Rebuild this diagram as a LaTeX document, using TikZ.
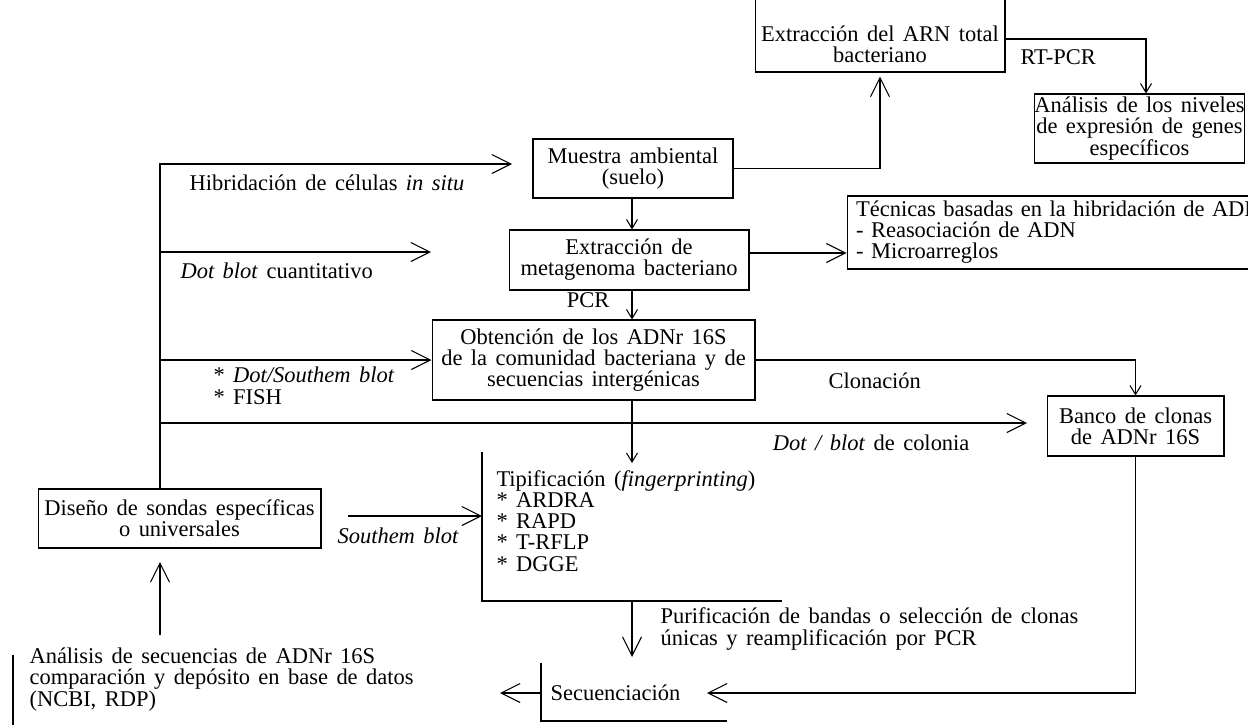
\documentclass[tikz,border=0pt]{standalone}
\usepackage{fontspec}
\setmainfont{Liberation Serif}[WordSpace=1.5]
\usetikzlibrary{arrows.meta}
\usetikzlibrary{positioning}

\begin{document}
\begin{tikzpicture}[x=0.02cm,y=-0.02cm,line width=0.6pt,
              every node/.style={font=\fontsize{12.8}{12}\selectfont, inner sep=0pt},
              box/.style={draw, align=center},
              lbl/.style={align=left},
              bigarrow/.style={-{Straight Barb[length=3.8mm,width=3.8mm]}},
              smallarrow/.style={-{Straight Barb[length=1.8mm,width=2.2mm]}}]
  \useasboundingbox (0,0) rectangle (1248,724);
  \clip (0,0) rectangle (1248,724);

  \node[box, minimum width=5cm, minimum height=1.84cm] (arn) at (880,26) {};
  \node[align=center] (arntext) at (880,44) {Extracción del ARN total\\bacteriano};
  \node[box, minimum width=4.18cm, minimum height=1.38cm] (niveles) at (1139.5,128.5)
    {Análisis de los niveles\\de expresión de genes\\específicos};
  \node[box, minimum width=4cm, minimum height=1.18cm] (muestra) at (633,168.5)
    {Muestra ambiental\\(suelo)};
  \node[box, minimum width=4.8cm, minimum height=1.2cm] (meta) at (629,260)
    {Extracción de\\metagenoma bacteriano};
  \node[draw, align=left, text width=9.1cm, inner xsep=0.18cm, minimum height=1.46cm] (tecnicas) at (1083.5,232.5)
    {Técnicas basadas en la hibridación de ADN\\- Reasociación de ADN\\- Microarreglos};
  \node[box, minimum width=6.46cm, minimum height=1.6cm] (obt) at (593.5,360)
    {Obtención de los ADNr 16S\\de la comunidad bacteriana y de\\secuencias intergénicas};
  \node[box, minimum width=3.54cm, minimum height=1.2cm] (banco) at (1135.5,426)
    {Banco de clonas\\de ADNr 16S};
  \node[box, minimum width=5.66cm, minimum height=1.18cm] (diseno) at (179.5,518.5)
    {Diseño de sondas específicas\\o universales};
  \node[lbl, anchor=base west] (tipif) at (496,571)
    {Tipificación (\textit{fingerprinting})\\* ARDRA\\* RAPD\\* T-RFLP\\* DGGE};
  \node[anchor=base west] (secuen) at (550,700) {Secuenciación};
  \node[lbl, anchor=base west] (analisis) at (29,706)
    {Análisis de secuencias de ADNr 16S\\comparación y depósito en base de datos\\(NCBI, RDP)};

  \node[anchor=base west] (hib) at (189,190) {Hibridación de células \textit{in situ}};
  \node[anchor=base west] (dotq) at (180,278) {\textit{Dot blot} cuantitativo};
  \node[lbl, anchor=base west] (dotsouth) at (213,404) {* \textit{Dot/Southem blot}\\* FISH};
  \node[anchor=base east] (colonia) at (970,450) {\textit{Dot / blot} de colonia};
  \node[anchor=base] (pcr) at (588,307) {PCR};
  \node[anchor=base west] (southern) at (337,543) {\textit{Southem blot}};
  \node[anchor=base west] (clonacion) at (828,388) {Clonación};
  \node[anchor=base west] (rtpcr) at (1020,64) {RT-PCR};
  \node[lbl, anchor=base west] (purif) at (660,645)
    {Purificación de bandas o selección de clonas\\únicas y reamplificación por PCR};

  \coordinate (trunk) at (160,164);
  \coordinate (spine) at (632,0);
  \coordinate (hibtip) at (512,164);
  \coordinate (dotqstart) at (160,252);
  \coordinate (dotqtip) at (431,252);
  \coordinate (colstart) at (160,423);
  \coordinate (coltip) at (1027,423);
  \coordinate (rtcorner) at (1146,39);
  \coordinate (techrow) at (0,253);
  \coordinate (tipiftop) at (482,452);
  \coordinate (tipifcorner) at (482,601);
  \coordinate (tipifend) at (782,601);
  \coordinate (southstart) at (348,516);
  \coordinate (obtdown) at (632,463);
  \coordinate (purifdown) at (632,657);
  \coordinate (secutop) at (541,663);
  \coordinate (secucorner) at (541,721);
  \coordinate (secuend) at (727,721);
  \coordinate (secutip) at (707,693);
  \coordinate (analisistip) at (500,693);
  \coordinate (anbartop) at (13,655);
  \coordinate (anbarend) at (13,730);
  \coordinate (anstart) at (160,635);
  \coordinate (antip) at (160,562);

  \draw (tipiftop) -- (tipifcorner) -- (tipifend);
  \draw (secutop) -- (secucorner) -- (secuend);
  \draw (anbartop) -- (anbarend);

  \draw[bigarrow, shorten >=0.8mm] (muestra.east) -| (arn.south);
  \draw[smallarrow] (arn.east |- rtcorner) -| (niveles.north -| rtcorner);
  \draw[smallarrow] (muestra.south -| spine) -- (meta.north -| spine);
  \draw[bigarrow] (meta.east |- techrow) -- (tecnicas.west |- techrow);
  \draw[smallarrow] (meta.south -| spine) -- (obt.north -| spine);
  \draw[smallarrow] (obt.south -| spine) -- (obtdown);
  \draw[smallarrow] (obt.east) -| (banco.north);
  \draw[bigarrow] (trunk |- diseno.north) |- (hibtip);
  \draw[bigarrow] (dotqstart) -- (dotqtip);
  \draw[bigarrow] (trunk |- obt.west) -- (obt.west);
  \draw[bigarrow] (colstart) -- (coltip);
  \draw[bigarrow] (southstart) -- (tipiftop |- southstart);
  \draw[bigarrow] (spine |- tipifcorner) -- (purifdown);
  \draw[bigarrow] (banco.south) |- (secutip);
  \draw[bigarrow] (secucorner |- analisistip) -- (analisistip);
  \draw[bigarrow] (anstart) -- (antip);
\end{tikzpicture}
\end{document}
